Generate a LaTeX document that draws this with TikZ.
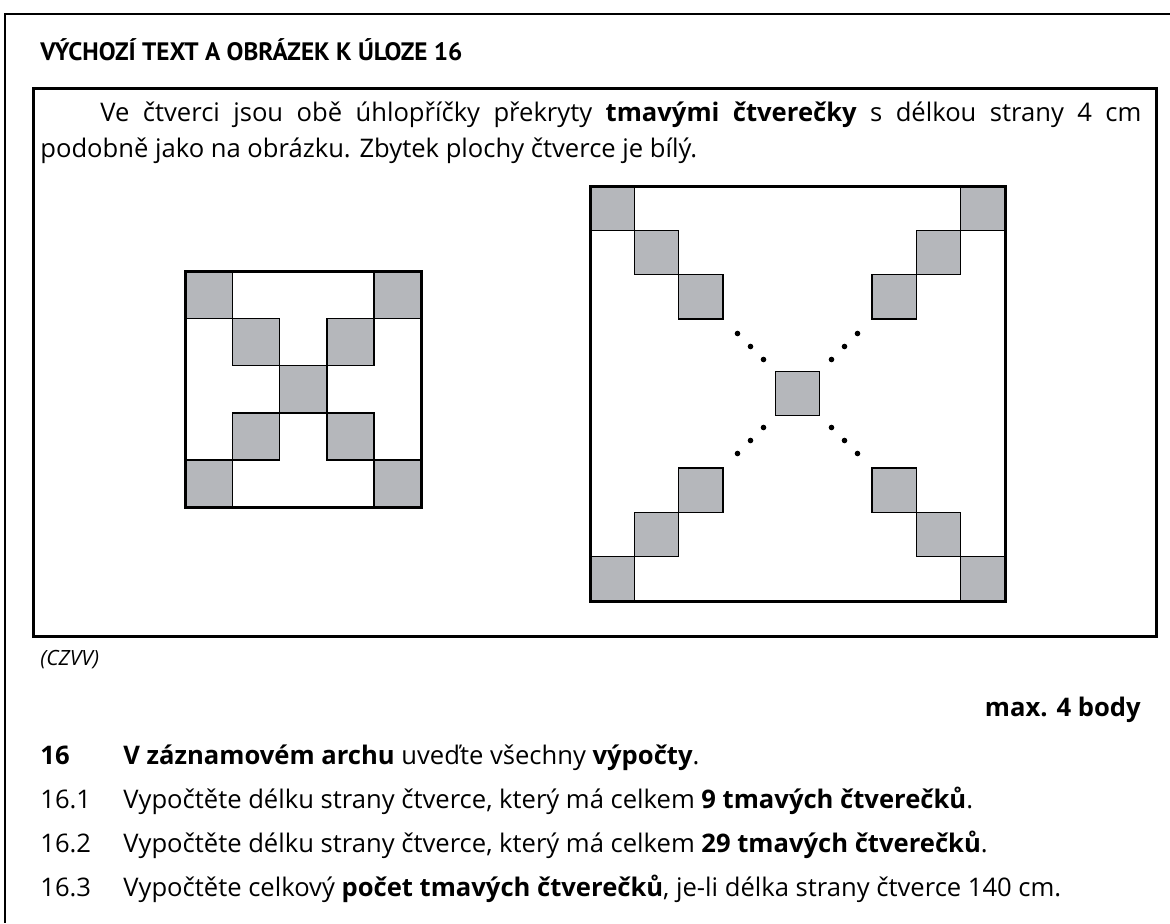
\documentclass[tikz,border=0pt]{standalone}
\usepackage{fontspec}
\setmainfont{Open Sans}
\newfontfamily\headfont{PT Sans}
\usetikzlibrary{positioning}

\definecolor{tilegray}{RGB}{181,183,187}

\begin{document}
\begin{tikzpicture}[x=0.5pt, y=-0.5pt,
        txt/.style={inner sep=0pt, anchor=base west, font=\fontsize{12.8}{15}\selectfont},
        tile/.style={draw, fill=tilegray, line width=0.75pt},
        frame/.style={draw, line width=1.5pt},
        dot/.style={fill=black}
    ]
        \useasboundingbox (0,0) rectangle (1170,923);
        % page frame
        \draw[line width=0.75pt] (1170,14) -- (5,14) -- (5,923);
        \node[txt, font=\fontsize{12.6}{15}\headfont\bfseries] (head) at (40,60) {VÝCHOZÍ TEXT A OBRÁZEK K ÚLOZE 16};
        \draw[frame] (33,88) rectangle (1156,636);
        \node[txt] (line1) at (100,121) {\makebox[520.5pt][s]{Ve čtverci jsou obě úhlopříčky překryty \textbf{tmavými čtverečky} s délkou strany 4 cm}};
        \node[txt] (line2) at (40,157) {podobně jako na obrázku. Zbytek plochy čtverce je bílý.};

        % small square, 5 x 5
        \foreach \i/\j in {0/0,4/0,1/1,3/1,2/2,1/3,3/3,0/4,4/4}
            \draw[tile] ({185+47.3*\i},{271+47.3*\j}) rectangle +(47.3,47.3);
        \draw[frame] (185,271) rectangle (421.5,507.5);

        % large square
        \foreach \i in {0,1,2} {
            \draw[tile] ({590+44.3*\i},{186+44.3*\i}) rectangle +(44.3,44.3);
            \draw[tile] ({1005-44.3*(\i+1)},{186+44.3*\i}) rectangle +(44.3,44.3);
            \draw[tile] ({590+44.3*\i},{601-44.3*(\i+1)}) rectangle +(44.3,44.3);
            \draw[tile] ({1005-44.3*(\i+1)},{601-44.3*(\i+1)}) rectangle +(44.3,44.3);
        }
        \draw[tile] (775.35,371.35) rectangle +(44.3,44.3);
        \foreach \d in {34,47,60} {
            \fill[dot] ({797.5-\d},{393.5-\d}) circle (1.4pt);
            \fill[dot] ({797.5+\d},{393.5-\d}) circle (1.4pt);
            \fill[dot] ({797.5-\d},{393.5+\d}) circle (1.4pt);
            \fill[dot] ({797.5+\d},{393.5+\d}) circle (1.4pt);
        }
        \draw[frame] (590,186) rectangle (1005,601);

        \node[txt, font=\fontsize{10.5}{12}\selectfont\itshape] (czvv) at (40,665) {(CZVV)};
        \node[txt, anchor=base east, font=\fontsize{12.8}{15}\selectfont\bfseries] (maxb) at (1141,716) {max. 4 body};
        \node[txt, font=\fontsize{12.8}{15}\selectfont\bfseries] (n16) at (40,764) {16};
        \node[txt] (q16) at (123,764) {\textbf{V záznamovém archu} uveďte všechny \textbf{výpočty}.};
        \node[txt] (n161) at (40,808) {16.1};
        \node[txt] (q161) at (123,808) {Vypočtěte délku strany čtverce, který má celkem \textbf{9 tmavých čtverečků}.};
        \node[txt] (n162) at (40,852) {16.2};
        \node[txt] (q162) at (123,852) {Vypočtěte délku strany čtverce, který má celkem \textbf{29 tmavých čtverečků}.};
        \node[txt] (n163) at (40,896) {16.3};
        \node[txt] (q163) at (123,896) {Vypočtěte celkový \textbf{počet tmavých čtverečků}, je-li délka strany čtverce 140 cm.};
    \end{tikzpicture}
\end{document}
